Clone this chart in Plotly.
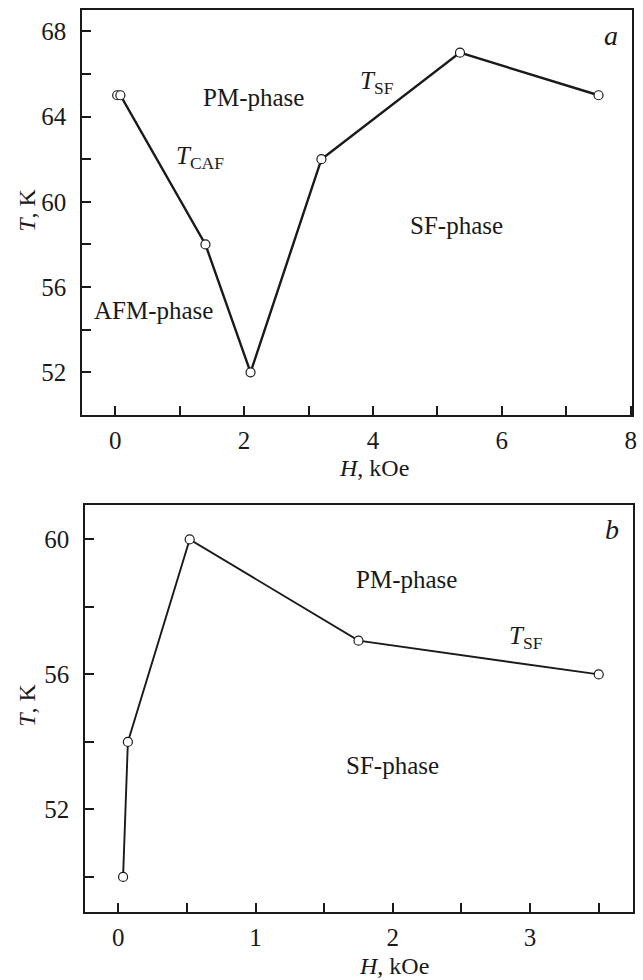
import plotly.graph_objects as go

# Panel a data
H_a = [0.03, 0.08, 1.40, 2.10, 3.20, 5.35, 7.50]
T_a = [65.0, 65.0, 58.0, 52.0, 62.0, 67.0, 65.0]
# Panel b data
H_b = [0.035, 0.07, 0.52, 1.75, 3.50]
T_b = [50.0, 54.0, 60.0, 57.0, 56.0]

xticks_a = [0, 2, 4, 6, 8]
yticks_a = [52, 56, 60, 64, 68]
xticks_b = [0, 1, 2, 3]
yticks_b = [52, 56, 60]

FONT = "Liberation Serif"
INK = "#1a1a1a"
W, Hh = 643, 980

def px(x):
    return x / W

def py(y):
    return 1 - y / Hh

fig = go.Figure()
marker = dict(symbol="circle", size=9, color="white", line=dict(color=INK, width=1.2))
fig.add_trace(go.Scatter(x=H_a, y=T_a, mode="lines+markers", line=dict(color=INK, width=2.4),
                         marker=marker, xaxis="x", yaxis="y", showlegend=False))
fig.add_trace(go.Scatter(x=H_b, y=T_b, mode="lines+markers", line=dict(color=INK, width=1.9),
                         marker=marker, xaxis="x2", yaxis="y2", showlegend=False))

axcommon = dict(showline=True, linecolor=INK, linewidth=2, mirror=True, ticks="inside",
                ticklen=9, tickwidth=1.5, tickcolor=INK, showgrid=False, zeroline=False,
                tickfont=dict(family=FONT, size=25, color=INK))
xcommon = dict(axcommon, ticklabelstandoff=2)
ycommon = dict(axcommon, ticklabelstandoff=9)

fig.update_layout(
    width=W, height=Hh, margin=dict(l=0, r=0, t=0, b=0),
    paper_bgcolor="white", plot_bgcolor="white",
    xaxis=dict(xcommon, domain=[px(83), px(637)], range=[-0.51, 8.02], anchor="y",
               tickvals=xticks_a, ticktext=[str(v) for v in xticks_a],
               minor=dict(ticks="inside", dtick=1, tick0=0, ticklen=9, tickwidth=1.5, tickcolor=INK)),
    yaxis=dict(ycommon, domain=[py(415), py(10)], range=[50, 69.0], anchor="x",
               tickvals=yticks_a, ticktext=[str(v) for v in yticks_a],
               minor=dict(ticks="inside", dtick=2, tick0=50, ticklen=9, tickwidth=1.5, tickcolor=INK)),
    xaxis2=dict(xcommon, domain=[px(86), px(638)], range=[-0.24, 3.75], anchor="y2",
                tickvals=xticks_b, ticktext=[str(v) for v in xticks_b],
                minor=dict(ticks="inside", dtick=0.5, tick0=0, ticklen=9, tickwidth=1.5, tickcolor=INK)),
    yaxis2=dict(ycommon, domain=[py(912), py(505)], range=[48.96, 61.02], anchor="x2",
                tickvals=yticks_b, ticktext=[str(v) for v in yticks_b],
                minor=dict(ticks="inside", dtick=2, tick0=50, ticklen=9, tickwidth=1.5, tickcolor=INK)),
)

def ann(text, x, y, xref, yref, size=25, **kw):
    fig.add_annotation(text=text, x=x, y=y, xref=xref, yref=yref, showarrow=False,
                       xanchor="center", yanchor="middle",
                       font=dict(family=FONT, size=size, color=INK), **kw)

# Panel a labels
ann("PM-phase", 2.15, 64.9, "x", "y")
ann("<i>T</i><sub>SF</sub>", 4.06, 65.6, "x", "y")
ann("<i>T</i><sub>CAF</sub>", 1.32, 62.1, "x", "y")
ann("SF-phase", 5.3, 58.9, "x", "y")
ann("AFM-phase", 0.6, 54.9, "x", "y")
ann("<i>a</i>", 7.7, 67.8, "x", "y", size=28)
# Panel b labels
ann("PM-phase", 2.1, 58.8, "x2", "y2")
ann("<i>T</i><sub>SF</sub>", 2.97, 57.1, "x2", "y2")
ann("SF-phase", 2.0, 53.3, "x2", "y2")
ann("<i>b</i>", 3.6, 60.28, "x2", "y2", size=28)

# Axis titles
ann("<i>H</i>, kOe", px(377), py(468), "paper", "paper", size=24)
ann("<i>H</i>, kOe", px(397), py(966), "paper", "paper", size=24)
ann("<i>T</i>, K", px(27), py(210), "paper", "paper", size=24, textangle=-90)
ann("<i>T</i>, K", px(27), py(705), "paper", "paper", size=24, textangle=-90)

fig.write_html("out.html")
